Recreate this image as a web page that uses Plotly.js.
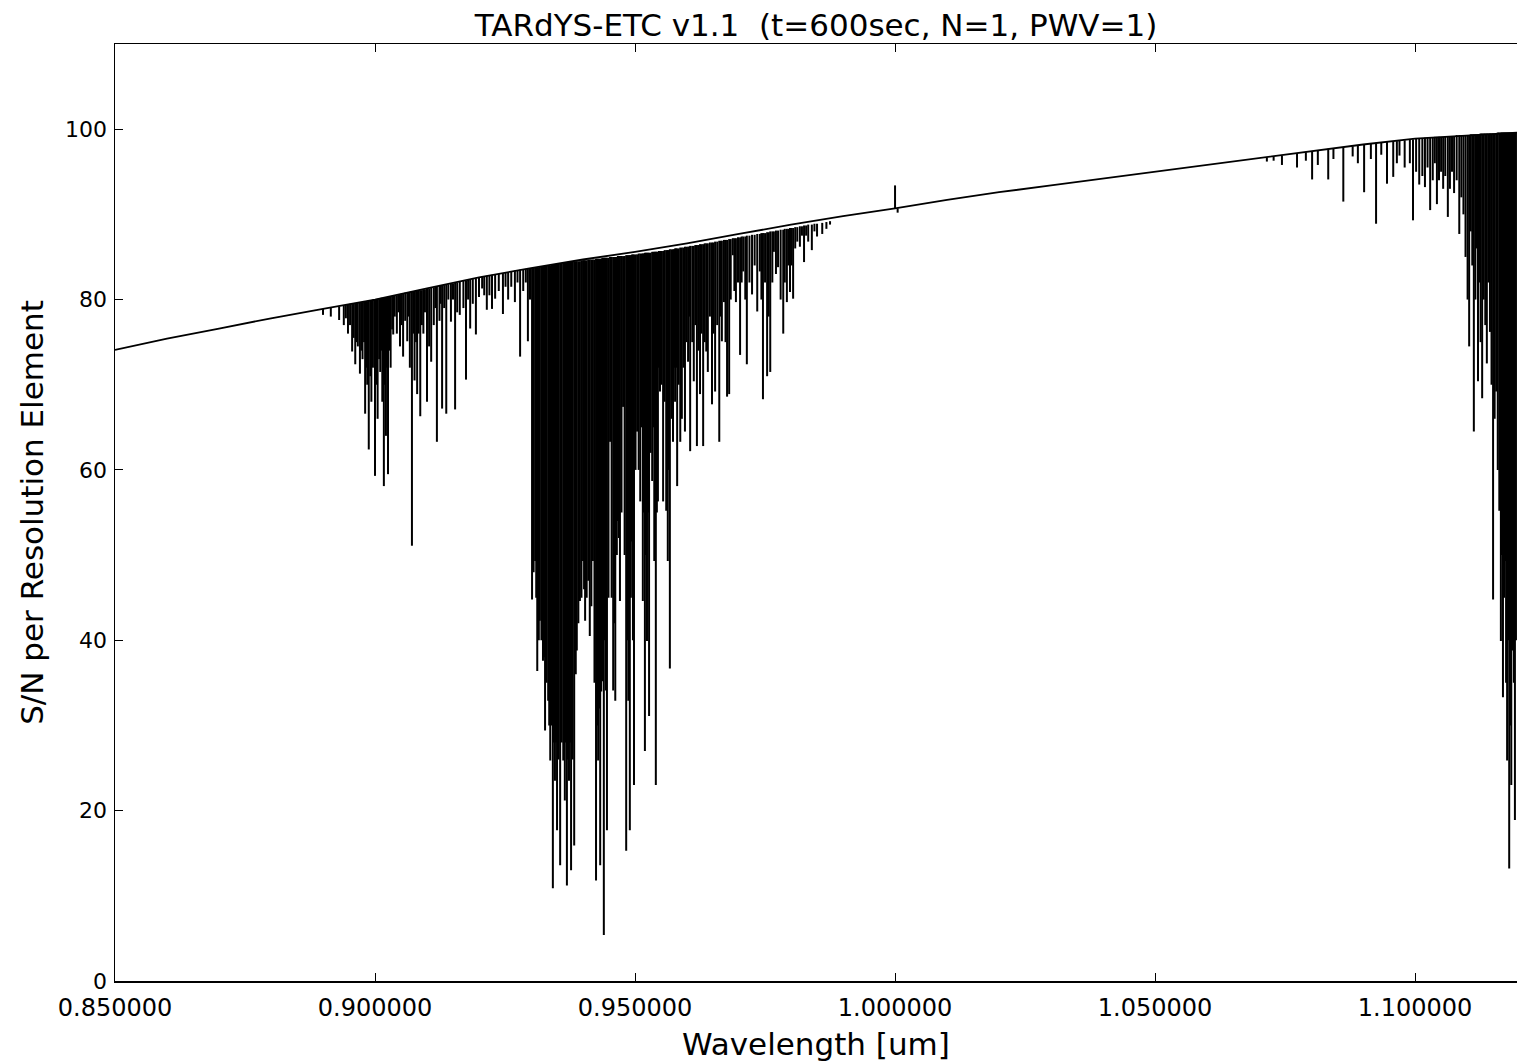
<!DOCTYPE html>
<html>
<head>
<meta charset="utf-8">
<script src="https://cdn.plot.ly/plotly-3.0.1.min.js"></script>
<style>html,body{margin:0;padding:0;background:#fff;}</style>
</head>
<body>
<div id="chart" style="width:1517px;height:1063px;"></div>
<script>
// Continuum of the S/N curve (wavelength in um, S/N)
const contWl = [0.850, 0.860, 0.870, 0.880, 0.890, 0.900, 0.910, 0.920, 0.930, 0.940, 0.950, 0.960, 0.970, 0.980, 0.990, 1.000, 1.010, 1.020, 1.030, 1.040, 1.050, 1.060, 1.070, 1.080, 1.090, 1.100, 1.110, 1.1196];
const contSN = [74.1, 75.4, 76.6, 77.8, 78.9, 80.0, 81.3, 82.6, 83.7, 84.7, 85.6, 86.6, 87.7, 88.8, 89.8, 90.7, 91.7, 92.6, 93.4, 94.2, 95.0, 95.8, 96.6, 97.4, 98.2, 98.9, 99.3, 99.6];

// Telluric features: wavelength, continuum level at the feature, extreme S/N of the feature
const featWl = [
  0.8900, 0.8915, 0.8931, 0.8940, 0.8944, 0.8948, 0.8952, 0.8956, 0.8959, 0.8962,
  0.8965, 0.8967, 0.8971, 0.8974, 0.8976, 0.8979, 0.8981, 0.8983, 0.8985, 0.8988,
  0.8991, 0.8993, 0.8996, 0.9000, 0.9003, 0.9005, 0.9008, 0.9010, 0.9012, 0.9014,
  0.9017, 0.9019, 0.9021, 0.9023, 0.9025, 0.9028, 0.9030, 0.9033, 0.9035, 0.9038,
  0.9042, 0.9045, 0.9048, 0.9051, 0.9054, 0.9058, 0.9062, 0.9065, 0.9067, 0.9071,
  0.9074, 0.9076, 0.9079, 0.9081, 0.9084, 0.9087, 0.9090, 0.9093, 0.9096, 0.9100,
  0.9104, 0.9108, 0.9113, 0.9116, 0.9119, 0.9124, 0.9126, 0.9129, 0.9133, 0.9137,
  0.9141, 0.9146, 0.9150, 0.9154, 0.9158, 0.9163, 0.9170, 0.9175, 0.9179, 0.9183,
  0.9188, 0.9194, 0.9200, 0.9206, 0.9210, 0.9215, 0.9220, 0.9225, 0.9231, 0.9238,
  0.9246, 0.9251, 0.9256, 0.9262, 0.9269, 0.9274, 0.9279, 0.9285, 0.9290, 0.9294,
  0.9298, 0.9302, 0.9305, 0.9308, 0.9310, 0.9312, 0.9315, 0.9317, 0.9320, 0.9323,
  0.9325, 0.9327, 0.9330, 0.9333, 0.9335, 0.9337, 0.9340, 0.9342, 0.9344, 0.9346,
  0.9348, 0.9350, 0.9353, 0.9356, 0.9359, 0.9362, 0.9364, 0.9365, 0.9367, 0.9369,
  0.9371, 0.9373, 0.9375, 0.9377, 0.9380, 0.9383, 0.9386, 0.9388, 0.9391, 0.9394,
  0.9397, 0.9400, 0.9402, 0.9404, 0.9407, 0.9410, 0.9413, 0.9416, 0.9419, 0.9422,
  0.9425, 0.9427, 0.9429, 0.9431, 0.9433, 0.9435, 0.9437, 0.9440, 0.9442, 0.9444,
  0.9446, 0.9449, 0.9452, 0.9455, 0.9458, 0.9460, 0.9462, 0.9465, 0.9467, 0.9469,
  0.9471, 0.9474, 0.9477, 0.9480, 0.9483, 0.9485, 0.9487, 0.9489, 0.9490, 0.9492,
  0.9494, 0.9496, 0.9498, 0.9501, 0.9504, 0.9507, 0.9510, 0.9513, 0.9515, 0.9517,
  0.9519, 0.9521, 0.9523, 0.9525, 0.9527, 0.9530, 0.9533, 0.9535, 0.9537, 0.9539,
  0.9540, 0.9542, 0.9544, 0.9546, 0.9548, 0.9551, 0.9554, 0.9557, 0.9560, 0.9562,
  0.9563, 0.9565, 0.9567, 0.9570, 0.9573, 0.9575, 0.9577, 0.9579, 0.9581, 0.9584,
  0.9587, 0.9590, 0.9593, 0.9596, 0.9599, 0.9602, 0.9604, 0.9606, 0.9610, 0.9613,
  0.9616, 0.9619, 0.9622, 0.9625, 0.9628, 0.9631, 0.9634, 0.9637, 0.9640, 0.9644,
  0.9648, 0.9651, 0.9654, 0.9658, 0.9662, 0.9665, 0.9667, 0.9671, 0.9674, 0.9677,
  0.9681, 0.9684, 0.9688, 0.9691, 0.9694, 0.9698, 0.9702, 0.9705, 0.9708, 0.9712,
  0.9715, 0.9720, 0.9725, 0.9730, 0.9735, 0.9740, 0.9743, 0.9746, 0.9750, 0.9754,
  0.9757, 0.9760, 0.9764, 0.9767, 0.9771, 0.9775, 0.9780, 0.9785, 0.9788, 0.9792,
  0.9795, 0.9798, 0.9801, 0.9804, 0.9808, 0.9812, 0.9817, 0.9821, 0.9825, 0.9829,
  0.9833, 0.9840, 0.9845, 0.9850, 0.9860, 0.9868, 0.9875, 1.0000, 1.0005, 1.0715,
  1.0728, 1.0744, 1.0773, 1.0790, 1.0802, 1.0813, 1.0833, 1.0843, 1.0862, 1.0880,
  1.0890, 1.0902, 1.0915, 1.0925, 1.0935, 1.0946, 1.0958, 1.0965, 1.0970, 1.0980,
  1.0990, 1.0996, 1.1002, 1.1008, 1.1014, 1.1019, 1.1024, 1.1029, 1.1034, 1.1038,
  1.1042, 1.1046, 1.1050, 1.1054, 1.1058, 1.1063, 1.1067, 1.1071, 1.1075, 1.1080,
  1.1085, 1.1089, 1.1093, 1.1097, 1.1101, 1.1104, 1.1107, 1.1110, 1.1113, 1.1116,
  1.1118, 1.1121, 1.1124, 1.1126, 1.1129, 1.1132, 1.1135, 1.1138, 1.1141, 1.1144,
  1.1147, 1.1150, 1.1153, 1.1156, 1.1159, 1.1162, 1.1165, 1.1167, 1.1169, 1.1171,
  1.1173, 1.1175, 1.1177, 1.1179, 1.1181, 1.1183, 1.1185, 1.1187, 1.1188, 1.1190,
  1.1192, 1.1194
];
const featCont = [
  78.9, 79.1, 79.2, 79.3, 79.4, 79.4, 79.5, 79.5, 79.5, 79.6,
  79.6, 79.6, 79.7, 79.7, 79.7, 79.8, 79.8, 79.8, 79.8, 79.9,
  79.9, 79.9, 80.0, 80.0, 80.0, 80.1, 80.1, 80.1, 80.2, 80.2,
  80.2, 80.2, 80.3, 80.3, 80.3, 80.4, 80.4, 80.4, 80.5, 80.5,
  80.5, 80.6, 80.6, 80.7, 80.7, 80.8, 80.8, 80.8, 80.9, 80.9,
  80.9, 81.0, 81.0, 81.0, 81.1, 81.1, 81.1, 81.2, 81.2, 81.3,
  81.3, 81.4, 81.4, 81.5, 81.5, 81.6, 81.6, 81.7, 81.7, 81.8,
  81.8, 81.9, 81.9, 82.0, 82.0, 82.1, 82.2, 82.2, 82.3, 82.3,
  82.4, 82.5, 82.6, 82.7, 82.7, 82.8, 82.8, 82.9, 83.0, 83.0,
  83.1, 83.2, 83.2, 83.3, 83.4, 83.4, 83.5, 83.5, 83.6, 83.6,
  83.7, 83.7, 83.7, 83.8, 83.8, 83.8, 83.8, 83.9, 83.9, 83.9,
  83.9, 84.0, 84.0, 84.0, 84.0, 84.0, 84.1, 84.1, 84.1, 84.1,
  84.1, 84.2, 84.2, 84.2, 84.2, 84.3, 84.3, 84.3, 84.3, 84.3,
  84.4, 84.4, 84.4, 84.4, 84.4, 84.5, 84.5, 84.5, 84.5, 84.5,
  84.6, 84.6, 84.6, 84.6, 84.6, 84.7, 84.7, 84.7, 84.7, 84.7,
  84.8, 84.8, 84.8, 84.8, 84.8, 84.8, 84.9, 84.9, 84.9, 84.9,
  84.9, 84.9, 85.0, 85.0, 85.0, 85.0, 85.0, 85.0, 85.1, 85.1,
  85.1, 85.1, 85.1, 85.1, 85.2, 85.2, 85.2, 85.2, 85.2, 85.2,
  85.3, 85.3, 85.3, 85.3, 85.3, 85.4, 85.4, 85.4, 85.4, 85.4,
  85.5, 85.5, 85.5, 85.5, 85.5, 85.5, 85.6, 85.6, 85.6, 85.6,
  85.6, 85.6, 85.6, 85.7, 85.7, 85.7, 85.7, 85.8, 85.8, 85.8,
  85.8, 85.8, 85.9, 85.9, 85.9, 85.9, 86.0, 86.0, 86.0, 86.0,
  86.1, 86.1, 86.1, 86.2, 86.2, 86.2, 86.2, 86.3, 86.3, 86.3,
  86.4, 86.4, 86.4, 86.5, 86.5, 86.5, 86.6, 86.6, 86.6, 86.7,
  86.7, 86.7, 86.8, 86.8, 86.9, 86.9, 86.9, 87.0, 87.0, 87.0,
  87.1, 87.1, 87.2, 87.2, 87.2, 87.3, 87.3, 87.4, 87.4, 87.4,
  87.5, 87.5, 87.6, 87.6, 87.7, 87.7, 87.8, 87.8, 87.8, 87.9,
  87.9, 88.0, 88.0, 88.0, 88.1, 88.1, 88.2, 88.2, 88.3, 88.3,
  88.3, 88.4, 88.4, 88.4, 88.5, 88.5, 88.6, 88.6, 88.7, 88.7,
  88.8, 88.8, 88.9, 88.9, 89.0, 89.1, 89.2, 90.7, 90.7, 96.7,
  96.8, 96.9, 97.2, 97.3, 97.4, 97.5, 97.7, 97.7, 97.9, 98.0,
  98.1, 98.2, 98.3, 98.4, 98.4, 98.5, 98.6, 98.6, 98.7, 98.7,
  98.8, 98.8, 98.9, 98.9, 98.9, 99.0, 99.0, 99.0, 99.0, 99.1,
  99.1, 99.1, 99.1, 99.1, 99.2, 99.2, 99.2, 99.2, 99.2, 99.3,
  99.3, 99.3, 99.3, 99.3, 99.3, 99.3, 99.4, 99.4, 99.4, 99.4,
  99.4, 99.4, 99.4, 99.5, 99.5, 99.5, 99.5, 99.5, 99.5, 99.5,
  99.5, 99.5, 99.5, 99.5, 99.6, 99.6, 99.6, 99.6, 99.6, 99.6,
  99.6, 99.6, 99.6, 99.6, 99.6, 99.6, 99.6, 99.6, 99.6, 99.6,
  99.6, 99.6
];
const featSN = [
  78.2, 78.0, 77.6, 77.0, 77.8, 76.0, 77.0, 73.9, 75.5, 72.4,
  75.0, 74.5, 71.3, 74.0, 73.0, 75.0, 66.6, 72.0, 70.0, 62.4,
  71.0, 68.0, 72.0, 59.3, 70.0, 66.0, 73.0, 71.5, 74.0, 68.0,
  58.1, 70.0, 64.0, 72.0, 59.5, 74.0, 72.0, 76.5, 75.9, 78.0,
  76.0, 78.5, 74.5, 77.0, 73.3, 77.5, 75.1, 78.0, 72.0, 51.1,
  76.0, 70.5, 75.0, 68.9, 76.0, 66.3, 77.0, 76.0, 78.5, 68.0,
  74.5, 72.7, 77.0, 79.0, 63.3, 77.5, 79.5, 67.2, 79.0, 66.6,
  80.0, 77.4, 80.0, 67.1, 78.5, 78.2, 79.0, 70.6, 80.0, 76.6,
  79.5, 75.9, 80.3, 81.3, 80.5, 78.8, 80.5, 78.9, 80.1, 81.0,
  78.3, 81.5, 80.0, 81.5, 79.7, 82.0, 73.3, 81.0, 82.0, 75.1,
  80.0, 44.8, 48.0, 49.3, 45.0, 36.4, 40.0, 42.3, 40.0, 37.6,
  38.0, 29.4, 35.0, 32.9, 30.0, 25.9, 30.0, 10.9, 28.0, 23.5,
  28.0, 17.7, 26.0, 13.6, 28.0, 25.9, 30.0, 21.2, 28.0, 11.2,
  26.0, 23.5, 28.0, 13.0, 26.0, 15.9, 36.0, 38.8, 42.0, 44.6,
  45.0, 49.3, 46.0, 42.3, 45.0, 47.0, 40.5, 44.0, 49.3, 35.0,
  11.8, 30.0, 25.9, 32.0, 13.6, 34.0, 35.2, 5.4, 40.0, 34.1,
  17.7, 45.0, 63.3, 45.0, 34.1, 42.0, 32.9, 50.0, 54.0, 52.0,
  44.6, 55.0, 67.4, 50.0, 15.3, 40.0, 32.9, 50.0, 17.7, 45.0,
  51.6, 40.0, 23.0, 60.0, 64.5, 60.0, 56.3, 65.0, 44.6, 55.0,
  27.0, 50.0, 39.9, 55.0, 31.1, 62.0, 58.7, 65.0, 49.3, 60.0,
  23.0, 55.0, 56.3, 72.0, 69.2, 70.0, 56.3, 68.0, 55.2, 65.0,
  49.3, 60.0, 36.7, 66.0, 63.3, 72.0, 68.0, 72.0, 58.1, 70.0,
  63.3, 66.0, 72.0, 64.5, 75.0, 72.7, 78.0, 62.2, 75.0, 70.4,
  77.0, 62.8, 74.0, 68.9, 76.0, 62.8, 75.0, 73.9, 71.5, 78.0,
  67.7, 76.0, 69.2, 77.0, 63.3, 78.0, 75.1, 79.7, 75.0, 68.6,
  68.9, 80.0, 85.2, 81.0, 79.7, 82.0, 73.5, 82.0, 83.3, 80.0,
  72.4, 82.0, 80.6, 84.0, 78.6, 83.3, 80.0, 68.3, 82.0, 71.0,
  78.0, 71.5, 82.0, 85.6, 83.0, 83.8, 80.0, 76.0, 82.0, 79.7,
  84.0, 80.9, 84.0, 80.1, 86.0, 86.8, 86.2, 87.5, 84.4, 87.5,
  86.8, 85.8, 88.0, 87.4, 87.7, 88.3, 88.8, 93.4, 90.2, 96.2,
  96.3, 95.8, 95.5, 96.3, 94.1, 95.8, 94.1, 96.5, 91.5, 96.8,
  96.0, 92.6, 96.5, 88.9, 97.0, 93.6, 94.4, 96.0, 96.9, 95.5,
  96.0, 89.3, 95.0, 93.5, 94.5, 93.2, 95.5, 90.5, 94.0, 96.0,
  91.2, 94.0, 95.0, 93.0, 94.5, 89.7, 93.0, 95.0, 92.5, 94.0,
  87.7, 92.0, 90.0, 85.0, 80.0, 74.5, 88.0, 84.0, 64.5, 80.0,
  86.0, 70.4, 82.0, 75.0, 68.4, 80.0, 77.0, 72.5, 82.0, 76.2,
  70.0, 44.8, 66.0, 69.2, 60.0, 55.2, 39.9, 50.0, 33.3, 45.0,
  49.3, 35.0, 25.9, 40.0, 13.2, 30.0, 23.0, 45.0, 38.8, 35.0,
  18.9, 40.0
];

const xTicks = [0.85, 0.90, 0.95, 1.00, 1.05, 1.10];
const yTicks = [0, 20, 40, 60, 80, 100];

const segX = [], segY = [];
for (let i = 0; i < featWl.length; i++) {
  segX.push(featWl[i], featWl[i], null);
  segY.push(featCont[i], featSN[i], null);
}

const FONT = 'DejaVu Sans, Verdana, sans-serif';

const data = [
  { x: segX, y: segY, type: 'scatter', mode: 'lines', line: { color: '#000', width: 2 }, hoverinfo: 'skip', showlegend: false, connectgaps: false },
  { x: contWl, y: contSN, type: 'scatter', mode: 'lines', line: { color: '#000', width: 1.8 }, showlegend: false }
];

const layout = {
  width: 1517, height: 1063,
  margin: { l: 115, r: 0, t: 44, b: 82, pad: 0 },
  paper_bgcolor: '#fff', plot_bgcolor: '#fff',
  font: { family: FONT, color: '#000' },
  title: {
    text: 'TARdYS-ETC v1.1 \u00a0(t=600sec, N=1, PWV=1)',
    font: { family: FONT, size: 31, color: '#000' },
    x: 0.5, xref: 'paper', xanchor: 'center',
    y: 1, yref: 'paper', yanchor: 'bottom', pad: { b: 8 }
  },
  xaxis: {
    range: [0.85, 1.1196], tickvals: xTicks, tickformat: '.6f',
    ticks: 'inside', ticklen: 8, tickwidth: 1, tickcolor: '#000',
    showline: true, linecolor: '#000', linewidth: 1.5, mirror: 'ticks',
    showgrid: false, zeroline: false, ticklabelstandoff: 5,
    tickfont: { family: FONT, size: 24, color: '#000' },
    title: { text: 'Wavelength [um]', font: { family: FONT, size: 31, color: '#000' }, standoff: 12 }
  },
  yaxis: {
    range: [0, 110], tickvals: yTicks,
    ticks: 'inside', ticklen: 8, tickwidth: 1, tickcolor: '#000',
    showline: true, linecolor: '#000', linewidth: 1.5, mirror: false,
    showgrid: false, zeroline: false, ticklabelstandoff: 2,
    tickfont: { family: FONT, size: 22, color: '#000' },
    title: { text: 'S/N per Resolution Element', font: { family: FONT, size: 31, color: '#000' }, standoff: 12 }
  }
};

Plotly.newPlot('chart', data, layout, { displayModeBar: false, staticPlot: true });
</script>
</body>
</html>
